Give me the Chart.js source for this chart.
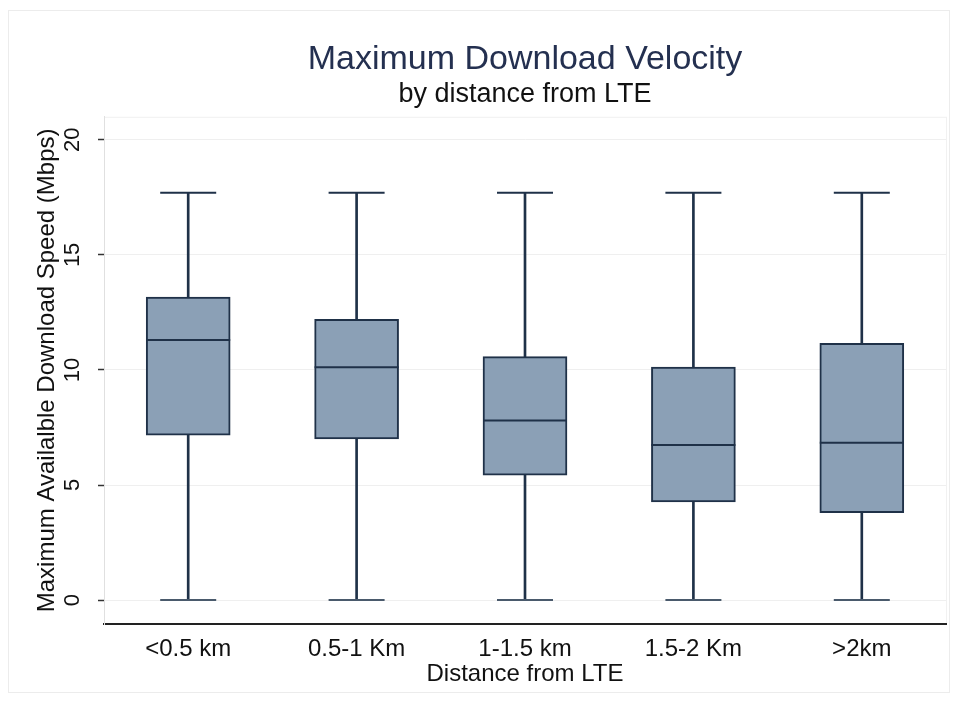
<!DOCTYPE html>
<html>
<head>
<meta charset="utf-8">
<script src="https://cdn.jsdelivr.net/npm/chart.js@4/dist/chart.umd.min.js"></script>
<style>
  html, body { margin: 0; padding: 0; background: #ffffff; }
  #wrap { width: 958px; height: 702px; }
</style>
</head>
<body>
<div id="wrap"><canvas id="chart" width="958" height="702"></canvas></div>
<script>
// box plot values (Mbps)
const categories = ["<0.5 km", "0.5-1 Km", "1-1.5 km", "1.5-2 Km", ">2km"];
const mins = [0, 0, 0, 0, 0];
const q1s = [7.17, 7.0, 5.43, 4.27, 3.8];
const medians = [11.3, 10.12, 7.8, 6.74, 6.84];
const q3s = [13.17, 12.2, 10.58, 10.12, 11.16];
const maxs = [17.7, 17.7, 17.7, 17.7, 17.7];
const yTicks = [0, 5, 10, 15, 20];

const boxFill = "#8ba0b6";
const lineDark = "#1f3148";
const fontFamily = "'Liberation Sans', Arial, sans-serif";

// faint frames like the stata graph region
const framePlugin = {
    id: "frames",
    beforeDraw(chart) {
        const ctx = chart.ctx;
        const a = chart.chartArea;
        ctx.save();
        ctx.strokeStyle = "#ececec";
        ctx.lineWidth = 1;
        ctx.strokeRect(8.5, 10.5, chart.width - 17, chart.height - 20);
        ctx.strokeStyle = "#f1f1f1";
        ctx.strokeRect(a.left + 0.5, a.top + 0.5, a.right - a.left, a.bottom - a.top);
        ctx.restore();
    }
};

const myChart = new Chart(document.getElementById("chart"), {
    type: "bar",
    data: {
        labels: categories,
        datasets: [
            {
                type: "line",
                label: "median",
                data: medians,
                showLine: false,
                pointStyle: "line",
                pointRadius: 42,
                pointHoverRadius: 42,
                pointBorderWidth: 2,
                pointBorderColor: lineDark,
                order: 0
            },
            {
                type: "line",
                label: "upper adjacent",
                data: maxs,
                showLine: false,
                pointStyle: "line",
                pointRadius: 28,
                pointHoverRadius: 28,
                pointBorderWidth: 2,
                pointBorderColor: lineDark,
                order: 0
            },
            {
                type: "line",
                label: "lower adjacent",
                data: mins,
                showLine: false,
                pointStyle: "line",
                pointRadius: 28,
                pointHoverRadius: 28,
                pointBorderWidth: 2,
                pointBorderColor: "#4a5a6c",
                order: 0
            },
            {
                label: "box",
                data: q1s.map((v, i) => [v, q3s[i]]),
                backgroundColor: boxFill,
                borderColor: lineDark,
                borderWidth: 2,
                borderSkipped: false,
                barThickness: 84,
                grouped: false,
                order: 1
            },
            {
                label: "whisker",
                data: mins.map((v, i) => [v, maxs[i]]),
                backgroundColor: lineDark,
                borderWidth: 0,
                barThickness: 2,
                grouped: false,
                order: 2
            }
        ]
    },
    options: {
        responsive: false,
        animation: false,
        layout: {
            autoPadding: false,
            padding: { left: 5, right: 12, top: 10, bottom: 16 }
        },
        plugins: {
            legend: { display: false },
            tooltip: { enabled: false },
            title: {
                display: true,
                fullSize: false,
                text: "Maximum Download Velocity",
                color: "#243050",
                font: { family: fontFamily, size: 34, weight: "normal", lineHeight: 1.2 },
                padding: { top: 29, bottom: 0 }
            },
            subtitle: {
                display: true,
                fullSize: false,
                text: "by distance from LTE",
                color: "#111111",
                font: { family: fontFamily, size: 27, weight: "normal", lineHeight: 1 },
                padding: { top: 1, bottom: 9 }
            }
        },
        scales: {
            x: {
                offset: true,
                grid: { display: false, drawTicks: false },
                border: { display: true, color: "#222222", width: 2 },
                ticks: {
                    color: "#111111",
                    padding: 13,
                    font: { family: fontFamily, size: 24, lineHeight: 1 }
                },
                title: {
                    display: true,
                    text: "Distance from LTE",
                    color: "#111111",
                    font: { family: fontFamily, size: 24, lineHeight: 1 },
                    padding: { top: 0, bottom: 0 }
                },
                afterFit: axis => {
                    axis.height = 62;
                    axis.paddingLeft = 0;
                    axis.paddingRight = 0;
                }
            },
            y: {
                min: -1.04,
                max: 21,
                afterBuildTicks: axis => {
                    axis.ticks = yTicks.map(v => ({ value: v }));
                },
                afterFit: axis => {
                    axis.width = 99;
                },
                grid: {
                    color: "#efefef",
                    tickColor: "#333333",
                    tickLength: 6,
                    tickWidth: 1.5,
                    lineWidth: 1
                },
                border: { display: true, color: "#e0e0e0", width: 1 },
                ticks: {
                    color: "#111111",
                    minRotation: 90,
                    maxRotation: 90,
                    crossAlign: "center",
                    padding: 13,
                    callback: v => String(v),
                    font: { family: fontFamily, size: 22, lineHeight: 1 }
                },
                title: {
                    display: true,
                    text: "Maximum Availalble Download Speed (Mbps)",
                    color: "#111111",
                    font: { family: fontFamily, size: 24, lineHeight: 1 },
                    padding: { top: 30, bottom: 3 }
                }
            }
        }
    },
    plugins: [framePlugin]
});
</script>
</body>
</html>
